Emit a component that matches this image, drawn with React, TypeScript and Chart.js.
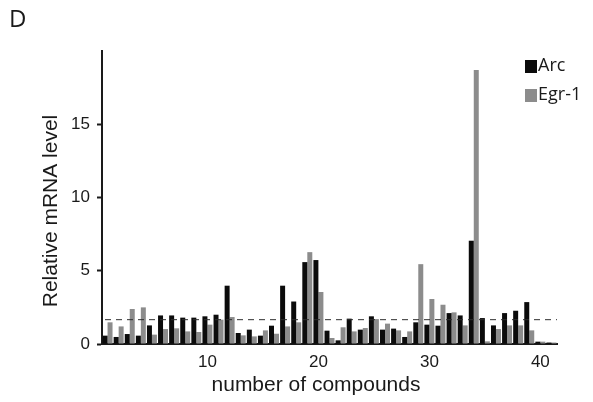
import { useEffect, useRef } from 'react';
import { Chart, registerables } from 'chart.js';

Chart.register(...registerables);

// Compound index along the x axis
const compounds = [
  '1', '2', '3', '4', '5', '6', '7', '8', '9', '10',
  '11', '12', '13', '14', '15', '16', '17', '18', '19', '20',
  '21', '22', '23', '24', '25', '26', '27', '28', '29', '30',
  '31', '32', '33', '34', '35', '36', '37', '38', '39', '40', '41',
];
const xTickLabels = ['10', '20', '30', '40'];
const yTickValues = [0, 5, 10, 15];

// Relative mRNA level per compound
const arc = [
  0.57, 0.48, 0.68, 0.57, 1.27, 1.95, 1.95, 1.8, 1.8, 1.89,
  2.0, 3.98, 0.75, 0.98, 0.57, 1.25, 3.98, 2.9, 5.59, 5.73,
  0.91, 0.25, 1.73, 0.98, 1.89, 0.98, 1.05, 0.48, 1.48, 1.32,
  1.25, 2.11, 1.95, 7.05, 1.77, 1.27, 2.11, 2.27, 2.86, 0.16, 0.1,
];
const egr1 = [
  1.48, 1.2, 2.39, 2.5, 0.64, 1.02, 1.07, 0.86, 0.82, 1.32,
  1.66, 1.84, 0.59, 0.52, 0.93, 0.7, 1.2, 1.48, 6.27, 3.55,
  0.41, 1.14, 0.86, 1.09, 1.7, 1.39, 0.93, 0.86, 5.45, 3.07,
  2.68, 2.16, 1.27, 18.7, 0.18, 1.02, 1.27, 1.27, 0.93, 0.16, 0.1,
];
const thresholdLevel = 1.66;

const seriesNames = ['Arc', 'Egr-1'];
const seriesColors = ['#0b0b0b', '#8c8c8c'];

const axisColor = '#1a1a1a';
const sansFont = "'Liberation Sans', Arial, sans-serif";
const legendFont = "'Open Sans', sans-serif";

// Draws the threshold line, axis titles, legend and panel letter
const overlayPlugin = {
  id: 'overlay',
  afterDatasetsDraw(chart: any) {
    const { ctx, chartArea, scales } = chart;
    const y = scales.y.getPixelForValue(thresholdLevel);
    ctx.save();
    ctx.strokeStyle = '#2e2e2e';
    ctx.lineWidth = 1;
    ctx.setLineDash([6, 5]);
    ctx.beginPath();
    ctx.moveTo(chartArea.left + 3, y);
    ctx.lineTo(chartArea.right, y);
    ctx.stroke();
    ctx.restore();
  },
  afterDraw(chart: any) {
    const { ctx } = chart;
    ctx.save();
    ctx.fillStyle = axisColor;

    // axis titles
    ctx.font = `21px ${sansFont}`;
    ctx.textAlign = 'center';
    ctx.textBaseline = 'middle';
    ctx.fillText('number of compounds', 316, 385);
    ctx.save();
    ctx.translate(51, 211);
    ctx.rotate(-Math.PI / 2);
    ctx.fillText('Relative mRNA level', 0, 0);
    ctx.restore();

    // panel letter
    ctx.font = `24px ${legendFont}`;
    ctx.textAlign = 'left';
    ctx.fillText('D', 9, 20);

    // legend
    ctx.font = `18px ${legendFont}`;
    seriesNames.forEach((name, i) => {
      const top = 60 + i * 29;
      ctx.fillStyle = seriesColors[i];
      ctx.fillRect(525, top, 12, 13);
      ctx.fillStyle = axisColor;
      ctx.fillText(name, 538, top + 6);
    });
    ctx.restore();
  },
};

export default function App() {
  const canvasRef = useRef<HTMLCanvasElement | null>(null);

  useEffect(() => {
    const canvas = canvasRef.current;
    if (!canvas) return;
    const chart = new Chart(canvas, {
      type: 'bar',
      data: {
        labels: compounds,
        datasets: [
          {
            label: seriesNames[0],
            data: arc,
            backgroundColor: seriesColors[0],
            borderWidth: 0,
            categoryPercentage: 0.9,
            barPercentage: 1,
          },
          {
            label: seriesNames[1],
            data: egr1,
            backgroundColor: seriesColors[1],
            borderWidth: 0,
            categoryPercentage: 0.9,
            barPercentage: 1,
          },
        ],
      },
      options: {
        animation: false,
        responsive: false,
        maintainAspectRatio: false,
        layout: { padding: { left: 0, top: 51, right: 36, bottom: 0 } },
        plugins: {
          legend: { display: false },
          tooltip: { enabled: false },
        },
        scales: {
          x: {
            grid: { display: false, drawTicks: false },
            border: { display: true, color: axisColor, width: 2 },
            ticks: {
              autoSkip: false,
              maxRotation: 0,
              minRotation: 0,
              padding: 8,
              color: axisColor,
              font: { family: sansFont, size: 17 },
              callback: (_v: any, i: number) =>
                xTickLabels.includes(compounds[i]) ? compounds[i] : '',
            },
            afterFit: (scale: any) => {
              scale.height = 58;
            },
          },
          y: {
            min: 0,
            max: 20,
            grid: {
              drawOnChartArea: false,
              drawTicks: true,
              tickLength: 5,
              tickWidth: 2,
              tickColor: axisColor,
            },
            border: { display: true, color: axisColor, width: 2 },
            ticks: {
              padding: 7,
              color: axisColor,
              font: { family: sansFont, size: 17 },
            },
            afterBuildTicks: (scale: any) => {
              scale.ticks = yTickValues.map((value) => ({ value }));
            },
            afterFit: (scale: any) => {
              scale.width = 102;
            },
          },
        },
      },
      plugins: [overlayPlugin],
    });
    return () => chart.destroy();
  }, []);

  return (
    <div style={{ position: 'fixed', left: 0, top: 0, width: 593, height: 402, background: '#fff' }}>
      <canvas ref={canvasRef} width={593} height={402} style={{ display: 'block' }} />
    </div>
  );
}
